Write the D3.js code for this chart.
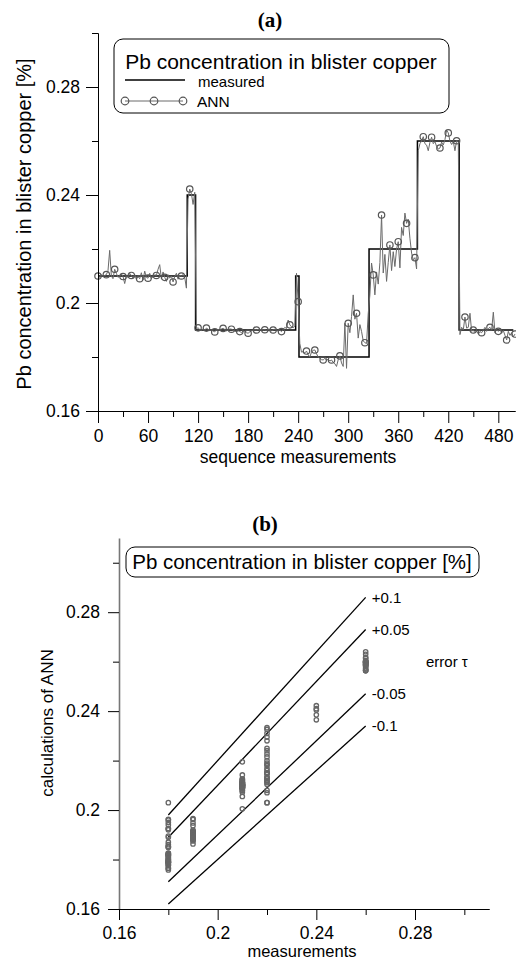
<!DOCTYPE html>
<html>
<head>
<meta charset="utf-8">
<script src="https://cdn.jsdelivr.net/npm/d3@7"></script>
<style>
  body { margin: 0; background: #fff; }
  svg { display: block; font-family: "Liberation Sans", Arial, sans-serif; }
</style>
</head>
<body>
<svg width="516" height="962"></svg>
<script>
// ---- data (chart a) ----
// measured Pb level, step function: start of each step and its level
var measStart = [0, 107, 117, 237, 241, 325, 383, 433];
var measLevel = [0.21, 0.24, 0.19, 0.21, 0.18, 0.22, 0.26, 0.19];
var measEnd = 498;

// ANN output, one value every 2 measurements (0, 2, 4 ... 500)
var annStep = 2;
var annValues = [
  0.2100, 0.2095, 0.2105, 0.2098, 0.2102, 0.2105, 0.2120, 0.2195, 0.2100, 0.2090,
  0.2125, 0.2110, 0.2095, 0.2100, 0.2108, 0.2098, 0.2072, 0.2100, 0.2095, 0.2110,
  0.2102, 0.2092, 0.2105, 0.2088, 0.2098, 0.2090, 0.2112, 0.2085, 0.2118, 0.2095,
  0.2092, 0.2110, 0.2090, 0.2098, 0.2105, 0.2102, 0.2125, 0.2142, 0.2090, 0.2115,
  0.2095, 0.2080, 0.2105, 0.2092, 0.2100, 0.2078, 0.2098, 0.2110, 0.2088, 0.2102,
  0.2100, 0.2105, 0.2095, 0.2055, 0.2385, 0.2422, 0.2405, 0.2365, 0.2410, 0.1905,
  0.1908, 0.1902, 0.1898, 0.1905, 0.1900, 0.1907, 0.1903, 0.1898, 0.1901, 0.1896,
  0.1893, 0.1900, 0.1902, 0.1899, 0.1904, 0.1906, 0.1902, 0.1897, 0.1900, 0.1904,
  0.1903, 0.1899, 0.1896, 0.1893, 0.1897, 0.1894, 0.1891, 0.1896, 0.1893, 0.1890,
  0.1888, 0.1893, 0.1897, 0.1899, 0.1901, 0.1900, 0.1902, 0.1899, 0.1903, 0.1900,
  0.1901, 0.1898, 0.1902, 0.1900, 0.1897, 0.1900, 0.1903, 0.1899, 0.1896, 0.1900,
  0.1894, 0.1902, 0.1910, 0.1905, 0.1937, 0.1919, 0.1912, 0.1908, 0.1915, 0.2110,
  0.2005, 0.1850, 0.1818, 0.1820, 0.1815, 0.1822, 0.1808, 0.1800, 0.1818, 0.1825,
  0.1826, 0.1812, 0.1800, 0.1795, 0.1790, 0.1789, 0.1795, 0.1788, 0.1792, 0.1785,
  0.1789, 0.1780, 0.1775, 0.1765, 0.1790, 0.1804, 0.1778, 0.1765, 0.1925, 0.1758,
  0.1925, 0.1890, 0.1950, 0.2030, 0.1940, 0.1962, 0.1870, 0.1920, 0.1895, 0.1860,
  0.1853, 0.1850, 0.1960, 0.2030, 0.2148, 0.2104, 0.2030, 0.2115, 0.2070, 0.2150,
  0.2326, 0.2111, 0.2180, 0.2080, 0.2150, 0.2215, 0.2120, 0.2190, 0.2135, 0.2200,
  0.2227, 0.2130, 0.2280, 0.2250, 0.2333, 0.2295, 0.2310, 0.2240, 0.2185, 0.2160,
  0.2168, 0.2126, 0.2564, 0.2590, 0.2600, 0.2616, 0.2590, 0.2585, 0.2564, 0.2595,
  0.2614, 0.2590, 0.2598, 0.2580, 0.2570, 0.2574, 0.2596, 0.2585, 0.2605, 0.2640,
  0.2630, 0.2600, 0.2587, 0.2598, 0.2564, 0.2601, 0.2598, 0.1883, 0.1910, 0.1900,
  0.1948, 0.1907, 0.1910, 0.1962, 0.1895, 0.1900, 0.1890, 0.1898, 0.1885, 0.1894,
  0.1890, 0.1900, 0.1910, 0.1895, 0.1905, 0.1910, 0.1900, 0.1966, 0.1890, 0.1902,
  0.1895, 0.1905, 0.1888, 0.1898, 0.1880, 0.1863, 0.1895, 0.1880, 0.1890, 0.1875,
  0.1885
];
var markerEvery = 10; // open circle every 10 measurements

var xTicksA = [0, 60, 120, 180, 240, 300, 360, 420, 480];
var xMinorA = [30, 90, 150, 210, 270, 330, 390, 450];
var yTicksA = [0.16, 0.2, 0.24, 0.28];
var yMinorA = [0.18, 0.22, 0.26, 0.30];

// ---- data (chart b) ----
var errLevels = [0.1, 0.05, -0.05, -0.1];
var errLabels = ["+0.1", "+0.05", "-0.05", "-0.1"];
var errRange = [0.18, 0.26];
var ticksB = [0.16, 0.2, 0.24, 0.28];
var minorB = [0.18, 0.22, 0.26, 0.30];
var tickLabels = ["0.16", "0.2", "0.24", "0.28"];

var svg = d3.select("svg");
var FONT = "Liberation Sans, Arial, sans-serif";

function levelAt(u) {
    var lv = measLevel[0];
    measStart.forEach(function (s, i) { if (u >= s) lv = measLevel[i]; });
    return lv;
}

var ann = annValues.map(function (v, i) { return { u: i * annStep, v: v }; });

function styleAxis(g, size) {
    g.attr("font-family", FONT).attr("font-size", size);
    g.selectAll("text").attr("fill", "#000");
}

function fmt(d) { return tickLabels[ticksB.indexOf(d)] || String(d); }

// =================== chart (a) ===================
var xA = d3.scaleLinear().domain([0, 500]).range([98, 515]);
var yA = d3.scaleLinear().domain([0.16, 0.30]).range([411, 33]);

svg.append("text")
    .attr("x", 270).attr("y", 27)
    .attr("text-anchor", "middle")
    .attr("font-family", "Liberation Serif, Times New Roman, serif")
    .attr("font-weight", "bold").attr("font-size", 21)
    .text("(a)");

// measured step line
var measPts = measStart.map(function (s, i) { return [s, measLevel[i]]; });
measPts.push([measEnd, measLevel[measLevel.length - 1]]);
svg.append("path")
    .datum(measPts)
    .attr("fill", "none").attr("stroke", "#000").attr("stroke-width", 1.5)
    .attr("d", d3.line().curve(d3.curveStepAfter)
        .x(function (d) { return xA(d[0]); })
        .y(function (d) { return yA(d[1]); }));

// ANN line + markers
svg.append("path")
    .datum(ann)
    .attr("fill", "none").attr("stroke", "#6a6a6a").attr("stroke-width", 1)
    .attr("d", d3.line()
        .x(function (d) { return xA(d.u); })
        .y(function (d) { return yA(d.v); }));

svg.append("g").selectAll("circle")
    .data(ann.filter(function (d) { return d.u % markerEvery === 0; }))
    .enter().append("circle")
    .attr("cx", function (d) { return xA(d.u); })
    .attr("cy", function (d) { return yA(d.v); })
    .attr("r", 3.2)
    .attr("fill", "none").attr("stroke", "#555").attr("stroke-width", 1.2);

// axes
var gya = svg.append("g").attr("transform", "translate(98,0)")
    .call(d3.axisLeft(yA).tickValues(yTicksA).tickSize(12).tickSizeOuter(0)
        .tickPadding(6).tickFormat(fmt));
styleAxis(gya, 17.5);
svg.append("g").attr("transform", "translate(98,0)")
    .call(d3.axisLeft(yA).tickValues(yMinorA).tickSize(6).tickSizeOuter(0).tickFormat(""));

var gxa = svg.append("g").attr("transform", "translate(0,411)")
    .call(d3.axisBottom(xA).tickValues(xTicksA).tickSize(12).tickSizeOuter(0).tickPadding(7));
styleAxis(gxa, 17.5);
svg.append("g").attr("transform", "translate(0,411)")
    .call(d3.axisBottom(xA).tickValues(xMinorA).tickSize(6).tickSizeOuter(0).tickFormat(""));

svg.append("text")
    .attr("x", 298).attr("y", 463)
    .attr("text-anchor", "middle").attr("font-size", 17.5)
    .text("sequence measurements");

svg.append("text")
    .attr("transform", "translate(31,224) rotate(-90)")
    .attr("text-anchor", "middle").attr("font-size", 20)
    .text("Pb concentration in blister copper [%]");

// legend (a)
var lg = svg.append("g");
lg.append("rect")
    .attr("x", 114).attr("y", 39).attr("width", 335).attr("height", 74)
    .attr("rx", 9).attr("fill", "#fff").attr("stroke", "#000").attr("stroke-width", 1);
lg.append("text").attr("x", 281).attr("y", 69)
    .attr("text-anchor", "middle").attr("font-size", 21)
    .text("Pb concentration in blister copper");
lg.append("line").attr("x1", 125).attr("x2", 185).attr("y1", 80).attr("y2", 80)
    .attr("stroke", "#000").attr("stroke-width", 1.5);
lg.append("text").attr("x", 198).attr("y", 87).attr("font-size", 15).text("measured");
lg.append("line").attr("x1", 125).attr("x2", 183).attr("y1", 101).attr("y2", 101)
    .attr("stroke", "#6a6a6a").attr("stroke-width", 1);
lg.selectAll("circle.lm").data([125, 154, 183]).enter().append("circle")
    .attr("cx", function (d) { return d; }).attr("cy", 101).attr("r", 3.8)
    .attr("fill", "none").attr("stroke", "#555").attr("stroke-width", 1.2);
lg.append("text").attr("x", 197).attr("y", 107).attr("font-size", 15.5).text("ANN");

// =================== chart (b) ===================
var xB = d3.scaleLinear().domain([0.16, 0.31]).range([119, 489]);
var yB = d3.scaleLinear().domain([0.16, 0.31]).range([909, 538]);

svg.append("text")
    .attr("x", 265).attr("y", 531)
    .attr("text-anchor", "middle")
    .attr("font-family", "Liberation Serif, Times New Roman, serif")
    .attr("font-weight", "bold").attr("font-size", 21)
    .text("(b)");

// error lines
var eg = svg.append("g");
errLevels.forEach(function (e, i) {
    eg.append("line")
        .attr("x1", xB(errRange[0])).attr("y1", yB(errRange[0] * (1 + e)))
        .attr("x2", xB(errRange[1])).attr("y2", yB(errRange[1] * (1 + e)))
        .attr("stroke", "#000").attr("stroke-width", 1.3);
    eg.append("text")
        .attr("x", xB(errRange[1]) + 6).attr("y", yB(errRange[1] * (1 + e)))
        .attr("dy", "0.35em").attr("font-size", 15)
        .text(errLabels[i]);
});
svg.append("text").attr("x", 426).attr("y", 662).attr("dy", "0.35em")
    .attr("font-size", 15).text("error \u03c4");

// scatter: ANN vs measured
svg.append("g").selectAll("circle")
    .data(ann)
    .enter().append("circle")
    .attr("cx", function (d) { return xB(levelAt(d.u)); })
    .attr("cy", function (d) { return yB(d.v); })
    .attr("r", 2.2)
    .attr("fill", "none").attr("stroke", "#666").attr("stroke-width", 1.3);

// axes (b)
var gyb = svg.append("g").attr("transform", "translate(119,0)")
    .call(d3.axisLeft(yB).tickValues(ticksB).tickSize(11).tickSizeOuter(0)
        .tickPadding(8).tickFormat(fmt));
styleAxis(gyb, 17.5);
gyb.select(".domain").attr("stroke", "#777").attr("stroke-width", 1.6);
svg.append("g").attr("transform", "translate(119,0)")
    .call(d3.axisLeft(yB).tickValues(minorB).tickSize(6).tickSizeOuter(0).tickFormat(""))
    .select(".domain").remove();

var gxb = svg.append("g").attr("transform", "translate(0,909)")
    .call(d3.axisBottom(xB).tickValues(ticksB).tickSize(11).tickSizeOuter(0)
        .tickPadding(7).tickFormat(fmt));
styleAxis(gxb, 17.5);
svg.append("g").attr("transform", "translate(0,909)")
    .call(d3.axisBottom(xB).tickValues(minorB).tickSize(6).tickSizeOuter(0).tickFormat(""));

svg.append("text")
    .attr("x", 302).attr("y", 957)
    .attr("text-anchor", "middle").attr("font-size", 16.5)
    .text("measurements");

svg.append("text")
    .attr("transform", "translate(53,723) rotate(-90)")
    .attr("text-anchor", "middle").attr("font-size", 17)
    .text("calculations of ANN");

// legend (b)
svg.append("rect")
    .attr("x", 126).attr("y", 547).attr("width", 353).attr("height", 30)
    .attr("rx", 9).attr("fill", "#fff").attr("stroke", "#000").attr("stroke-width", 1);
svg.append("text").attr("x", 302).attr("y", 569)
    .attr("text-anchor", "middle").attr("font-size", 20.5)
    .text("Pb concentration in blister copper [%]");
</script>
</body>
</html>
